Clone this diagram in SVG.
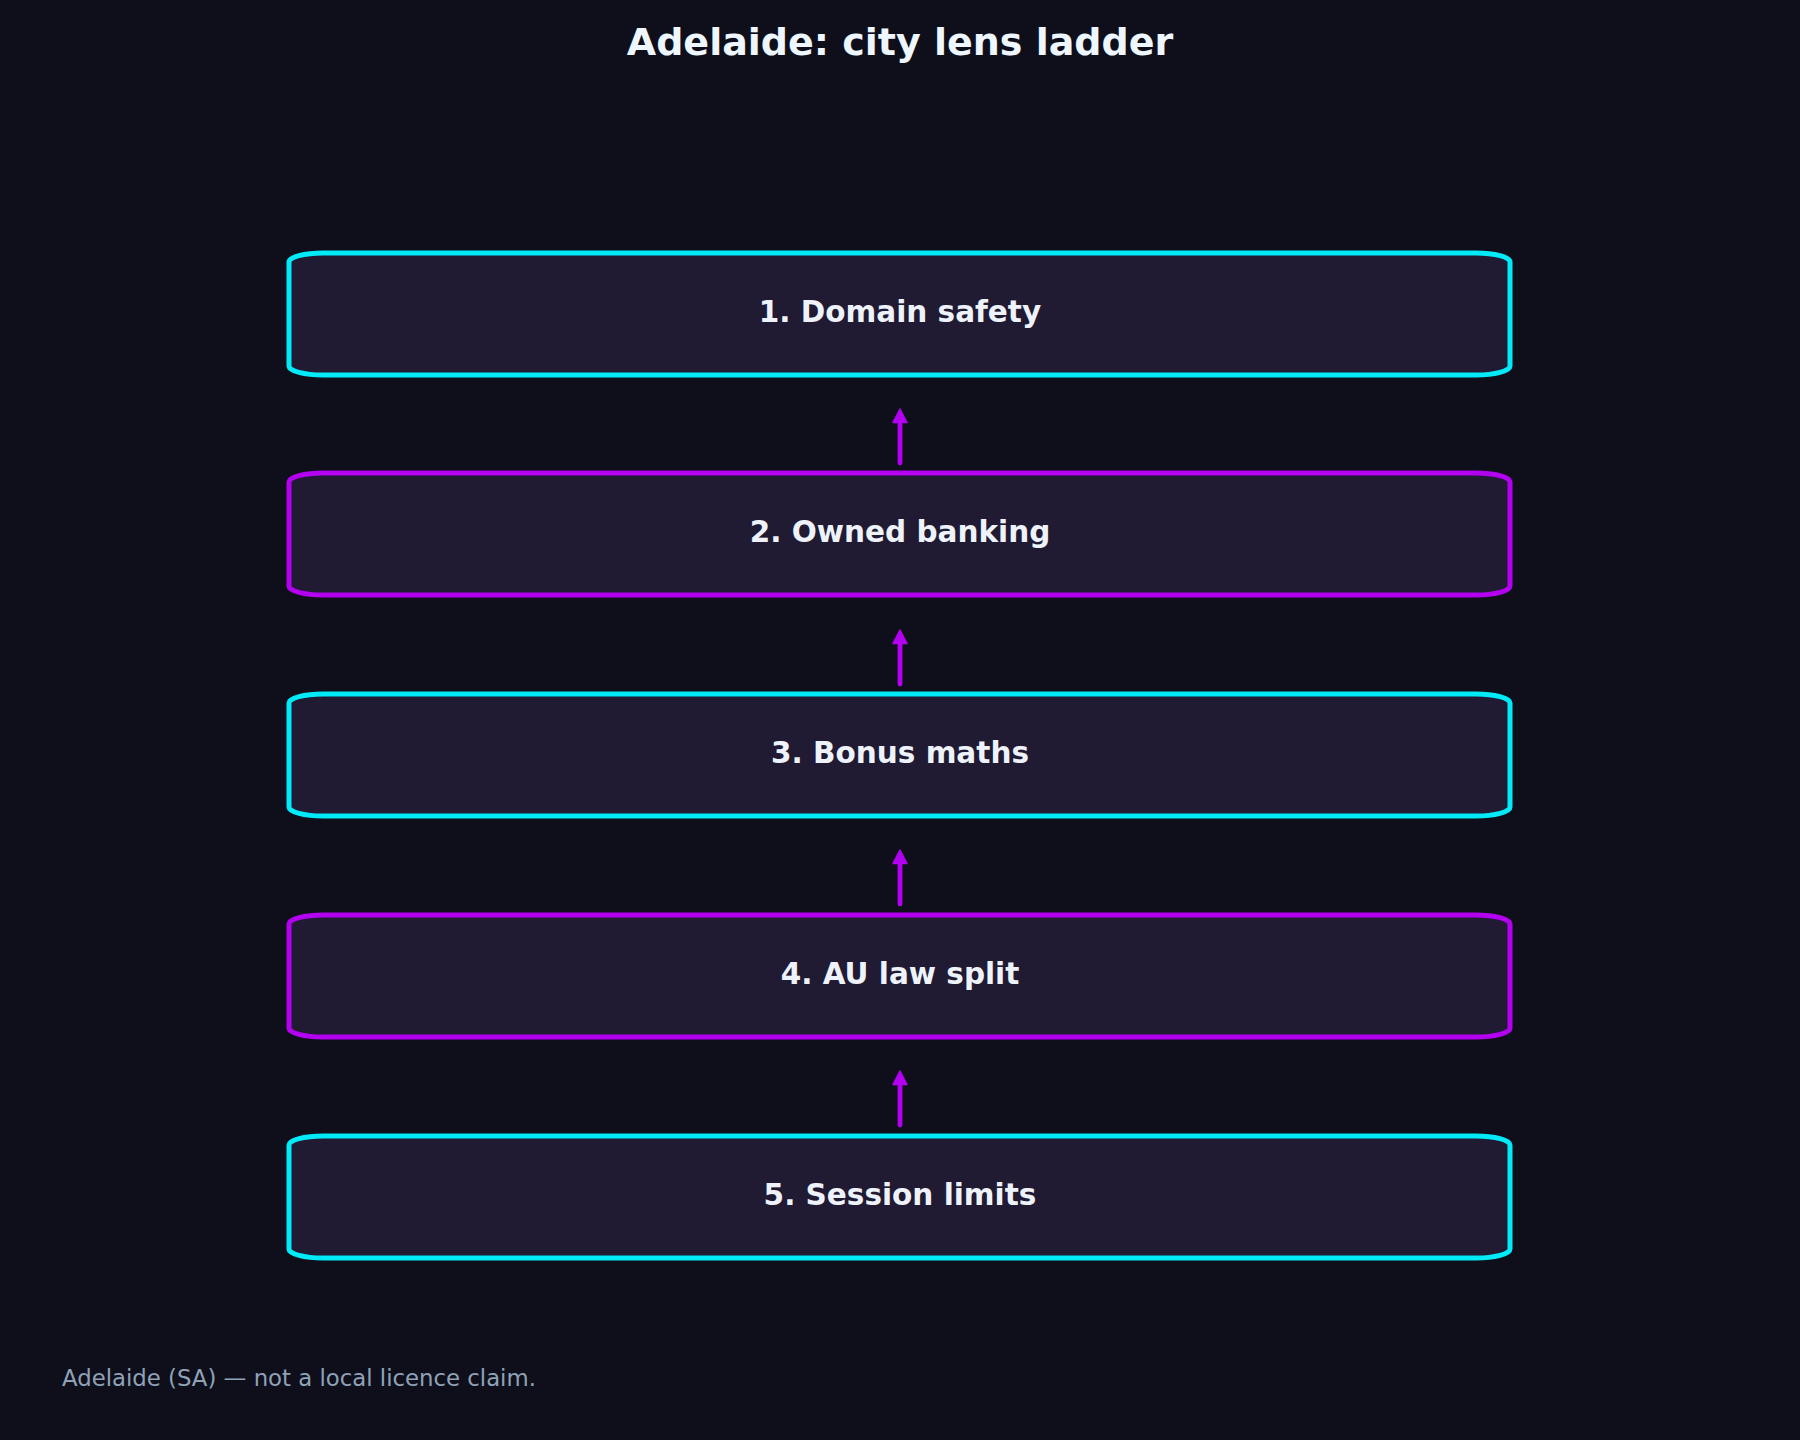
<svg xmlns="http://www.w3.org/2000/svg" width="1800" height="1440" viewBox="0 0 1800 1440">
<defs>
<style>
.bg{fill:#0e0f1a}
.box{fill:#201a33;stroke-width:5}
.cy{stroke:#00eaf8}
.pu{stroke:#b300f0}
.lbl{font-family:"DejaVu Sans",sans-serif;font-weight:bold;font-size:29.5px;fill:#eef3fb;text-anchor:middle}
.title{font-family:"DejaVu Sans",sans-serif;font-weight:bold;font-size:38px;fill:#eef6ff;text-anchor:middle}
.foot{font-family:"DejaVu Sans",sans-serif;font-size:22.8px;fill:#8fa2b8}
.arr{stroke:#b300f0;stroke-width:4.8;stroke-linecap:round;fill:none;marker-end:url(#ah)}
</style>
<marker id="ah" viewBox="0 0 16 16" refX="8" refY="8" markerWidth="16" markerHeight="16" orient="auto" markerUnits="userSpaceOnUse">
<path d="M1.5,1 L15,8 L1.5,15 z" fill="#b300f0" stroke="#b300f0" stroke-width="1.5" stroke-linejoin="round"/>
</marker>
</defs>
<rect class="bg" x="0" y="0" width="1800" height="1440"/>
<text class="title" x="900" y="55">Adelaide: city lens ladder</text>
<g id="connectors">
<line class="arr" x1="900" y1="463" x2="900" y2="416"/>
<line class="arr" x1="900" y1="684" x2="900" y2="637"/>
<line class="arr" x1="900" y1="904" x2="900" y2="857"/>
<line class="arr" x1="900" y1="1125" x2="900" y2="1078"/>
</g>
<g id="node1"><rect class="box cy" x="289" y="253" width="1221" height="122" rx="34" ry="9"/><text class="lbl" x="900" y="322">1. Domain safety</text></g>
<g id="node2"><rect class="box pu" x="289" y="473" width="1221" height="122" rx="34" ry="9"/><text class="lbl" x="900" y="542">2. Owned banking</text></g>
<g id="node3"><rect class="box cy" x="289" y="694" width="1221" height="122" rx="34" ry="9"/><text class="lbl" x="900" y="763">3. Bonus maths</text></g>
<g id="node4"><rect class="box pu" x="289" y="915" width="1221" height="122" rx="34" ry="9"/><text class="lbl" x="900" y="984">4. AU law split</text></g>
<g id="node5"><rect class="box cy" x="289" y="1136" width="1221" height="122" rx="34" ry="9"/><text class="lbl" x="900" y="1205">5. Session limits</text></g>
<text class="foot" x="62" y="1386">Adelaide (SA) — not a local licence claim.</text>
</svg>
